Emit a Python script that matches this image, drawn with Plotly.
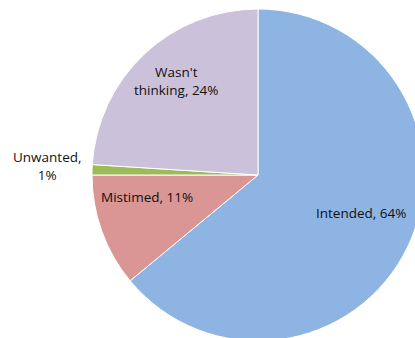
import plotly.graph_objects as go

labels = ["Intended", "Mistimed", "Unwanted", "Wasn't thinking"]
values = [64, 11, 1, 24]
colors = ["#8EB4E3", "#D99694", "#9BBB59", "#CCC1DA"]
label_text = ["Intended, 64%", "Mistimed, 11%", "Unwanted,<br>1%", "Wasn't<br>thinking, 24%"]

W, H = 440, 362
cx, cy, r = 258, 175, 166

fig = go.Figure(go.Pie(
    labels=labels, values=values, sort=False, direction="clockwise", rotation=0,
    marker=dict(colors=colors, line=dict(color="white", width=1)),
    textinfo="none", hoverinfo="label+percent", showlegend=False,
    domain=dict(x=[(cx - r) / W, (cx + r) / W], y=[1 - (cy + r) / H, 1 - (cy - r) / H]),
))

label_pos = [(361, 213), (147, 197), (47, 166), (176, 81)]
for t, (px, py) in zip(label_text, label_pos):
    fig.add_annotation(x=px / W, y=1 - py / H, xref="paper", yref="paper", text=t,
                       showarrow=False, xanchor="center", yanchor="middle",
                       font=dict(family="Open Sans", size=13.5, color="#111111"))

fig.update_layout(width=W, height=H, margin=dict(l=0, r=0, t=0, b=0),
                  paper_bgcolor="white", plot_bgcolor="white")

fig.write_html("out.html", config={"displayModeBar": False},
               post_script="document.body.style.overflow='hidden';document.documentElement.style.overflow='hidden';document.body.style.margin='0';")
